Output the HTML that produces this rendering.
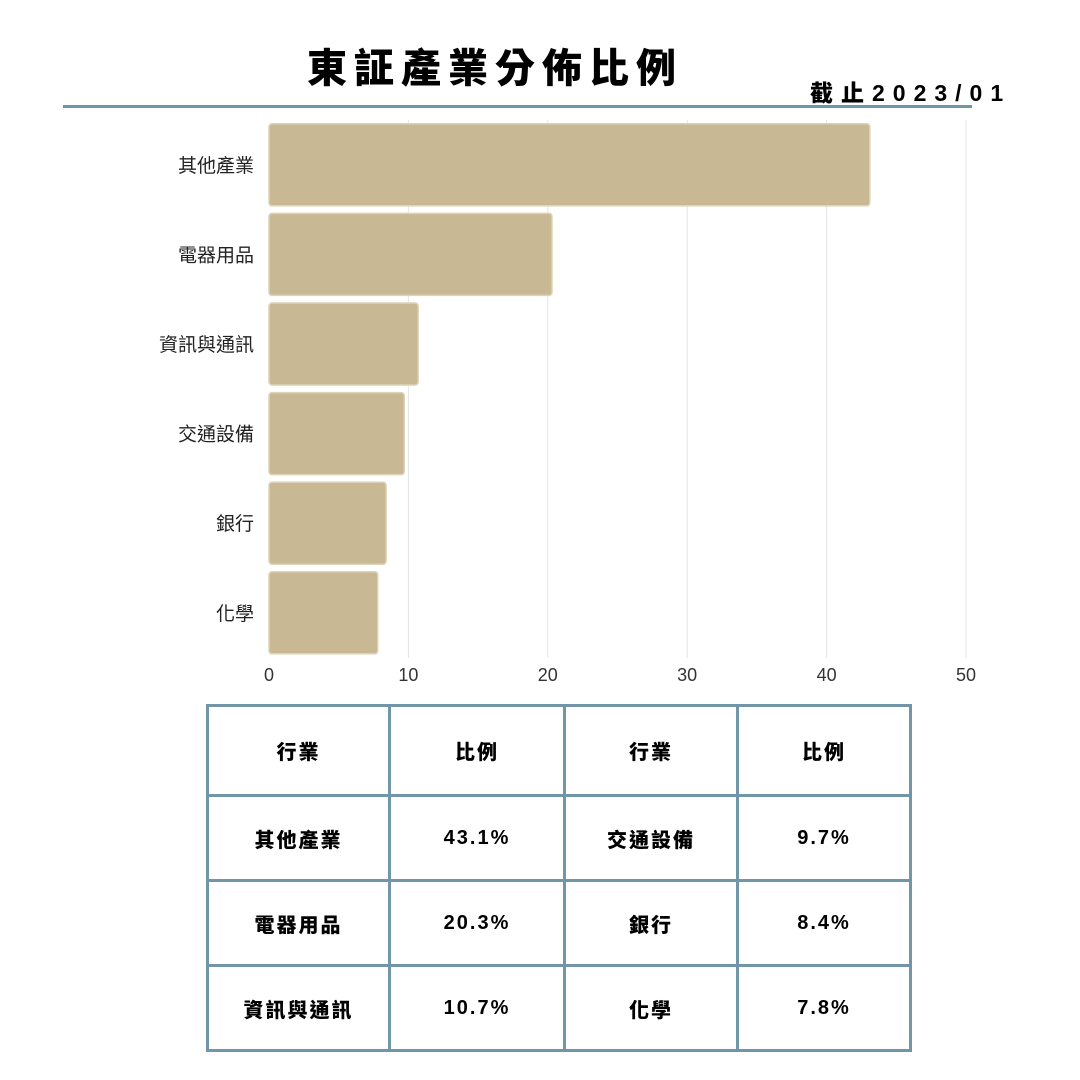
<!DOCTYPE html>
<html><head><meta charset="utf-8">
<style>
body{margin:0;background:#fff;}
#wrap{position:relative;width:1080px;height:1080px;overflow:hidden;background:#fff;font-family:"Liberation Sans","Noto Sans CJK TC",sans-serif;}
#title{position:absolute;left:0;width:990px;top:36px;text-align:center;font-size:40px;font-weight:900;letter-spacing:7px;color:#000;font-family:"Liberation Sans","Noto Sans CJK TC",sans-serif;}
#date{position:absolute;left:810px;top:74px;font-size:23px;font-weight:900;letter-spacing:8px;font-family:"Liberation Sans","Noto Sans CJK TC",sans-serif;}
#rule{position:absolute;left:63px;top:105px;width:909px;height:3px;background:#6f97a8;}
table{position:absolute;left:206px;top:704px;border-collapse:collapse;}
td{border:3px solid #7096a8;text-align:center;font-weight:900;font-size:20px;letter-spacing:2px;font-family:"Liberation Sans","Noto Sans CJK TC",sans-serif;padding:0;}
</style></head><body>
<div id="wrap">
<div id="title">東証產業分佈比例</div>
<div id="date">截止2023/01</div>
<div id="rule"></div>
<svg id="chart" width="1080" height="700" style="position:absolute;left:0;top:0"></svg>
<table>
<tr style="height:90px"><td style="width:179px">行業</td><td style="width:172px">比例</td><td style="width:170px">行業</td><td style="width:170px">比例</td></tr>
<tr style="height:85px"><td>其他產業</td><td>43.1%</td><td>交通設備</td><td>9.7%</td></tr>
<tr style="height:85px"><td>電器用品</td><td>20.3%</td><td>銀行</td><td>8.4%</td></tr>
<tr style="height:85px"><td>資訊與通訊</td><td>10.7%</td><td>化學</td><td>7.8%</td></tr>
</table>
</div>
<script>
const categories=["其他產業","電器用品","資訊與通訊","交通設備","銀行","化學"];
const values=[43.1,20.3,10.7,9.7,8.4,7.8];
const ticks=[0,10,20,30,40,50];
const svg=document.getElementById('chart');
const NS='http://www.w3.org/2000/svg';
const x0=269,x1=966,xmax=50,top0=120,band=89.6,bh=82;
const xs=v=>x0+(x1-x0)*v/xmax;
function mk(t,a){const e=document.createElementNS(NS,t);for(const k in a)e.setAttribute(k,a[k]);svg.appendChild(e);return e;}
ticks.forEach(t=>{
 if(t>0){const g=mk('line',{x1:xs(t),x2:xs(t),y1:120,y2:658,stroke:'#e4e4e4','stroke-width':1});
 
 }
 const l=mk('text',{x:xs(t),y:681,'text-anchor':'middle','font-size':18,fill:'#333','font-family':'Liberation Sans, sans-serif'});
 l.textContent=t;
 
 
});
categories.forEach((c,i)=>{
 const y=top0+i*band+(band-bh)/2;
 const r=mk('rect',{x:x0,y:y,width:xs(values[i])-x0,height:bh,rx:3,fill:'#c8b894',stroke:'#ddd2b8','stroke-width':1.5});
 
 
 const t=mk('text',{x:254,y:y+bh/2+7,'text-anchor':'end','font-size':19,fill:'#222','font-family':'Liberation Sans, Noto Sans CJK TC, sans-serif'});
 t.textContent=c;
 
 
});
</script>
</body></html>
